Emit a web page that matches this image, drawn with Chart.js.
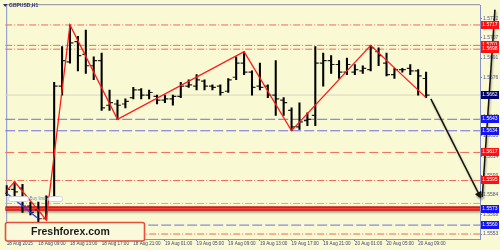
<!DOCTYPE html>
<html>
<head>
<meta charset="utf-8">
<script src="https://cdn.jsdelivr.net/npm/chart.js@4.4.0/dist/chart.umd.min.js"></script>
<style>
  html, body { margin: 0; padding: 0; background: #f9f9d3; }
  canvas { display: block; }
</style>
</head>
<body>
<canvas id="chart" width="500" height="250"></canvas>
<script>
// GBPUSD H1, one bar per hour from 18 Aug 2015 05:00
var opens  = [1.5585, 1.5588, 1.5589, 1.5575, 1.5572, 1.5565, 1.5582, 1.5669, 1.5688, 1.5704,
              1.5694, 1.5685, 1.5689, 1.5654, 1.5655, 1.5655, 1.5660, 1.5666, 1.5662, 1.5661,
              1.5658, 1.5659, 1.5661, 1.5669, 1.5669, 1.5673, 1.5669, 1.5669, 1.5665, 1.5676,
              1.5687, 1.5680, 1.5669, 1.5669, 1.5662, 1.5658, 1.5650, 1.5637, 1.5642, 1.5646,
              1.5687, 1.5689, 1.5686, 1.5680, 1.5680, 1.5681, 1.5682, 1.5696, 1.5687, 1.5678,
              1.5682, 1.5683, 1.5681, 1.5675];
var highs  = [1.5591, 1.5594, 1.5592, 1.5578, 1.5578, 1.5583, 1.5672, 1.5700, 1.5717, 1.5708,
              1.5713, 1.5692, 1.5695, 1.5666, 1.5658, 1.5659, 1.5668, 1.5667, 1.5666, 1.5662,
              1.5662, 1.5662, 1.5672, 1.5674, 1.5678, 1.5674, 1.5670, 1.5670, 1.5675, 1.5692,
              1.5696, 1.5681, 1.5687, 1.5670, 1.5689, 1.5660, 1.5652, 1.5656, 1.5648, 1.5700,
              1.5695, 1.5693, 1.5689, 1.5691, 1.5686, 1.5685, 1.5701, 1.5699, 1.5695, 1.5683,
              1.5683, 1.5686, 1.5682, 1.5680];
var lows   = [1.5583, 1.5581, 1.5570, 1.5568, 1.5562, 1.5564, 1.5581, 1.5662, 1.5687, 1.5681,
              1.5679, 1.5674, 1.5650, 1.5650, 1.5643, 1.5652, 1.5659, 1.5659, 1.5659, 1.5655,
              1.5656, 1.5654, 1.5660, 1.5668, 1.5666, 1.5666, 1.5666, 1.5662, 1.5664, 1.5674,
              1.5678, 1.5662, 1.5666, 1.5660, 1.5646, 1.5646, 1.5634, 1.5635, 1.5638, 1.5638,
              1.5669, 1.5679, 1.5675, 1.5678, 1.5678, 1.5679, 1.5681, 1.5685, 1.5677, 1.5675,
              1.5680, 1.5678, 1.5662, 1.5660];
var closes = [1.5588, 1.5586, 1.5575, 1.5570, 1.5565, 1.5582, 1.5669, 1.5689, 1.5703, 1.5693,
              1.5685, 1.5689, 1.5652, 1.5656, 1.5654, 1.5657, 1.5666, 1.5662, 1.5664, 1.5658,
              1.5659, 1.5661, 1.5669, 1.5670, 1.5674, 1.5669, 1.5668, 1.5664, 1.5674, 1.5687,
              1.5680, 1.5668, 1.5668, 1.5662, 1.5659, 1.5656, 1.5637, 1.5641, 1.5643, 1.5687,
              1.5689, 1.5686, 1.5680, 1.5686, 1.5682, 1.5683, 1.5699, 1.5693, 1.5678, 1.5682,
              1.5682, 1.5681, 1.5677, 1.5662];

var xTickBars   = [0, 4, 8, 12, 16, 20, 24, 28, 32, 36, 40, 44, 48, 52];
var xTickLabels = ['18 Aug 2015', '18 Aug 09:00', '18 Aug 13:00', '18 Aug 17:00', '18 Aug 21:00',
                   '19 Aug 01:00', '19 Aug 05:00', '19 Aug 09:00', '19 Aug 13:00', '19 Aug 17:00',
                   '19 Aug 21:00', '20 Aug 01:00', '20 Aug 05:00', '20 Aug 09:00'];
var yTickValues = [1.5722, 1.5707, 1.5691, 1.5676, 1.5661, 1.5645, 1.5630, 1.5614, 1.5599, 1.5584, 1.5568, 1.5553];

var zigzagBars   = [0, 1, 5, 8, 14, 30, 36, 46, 53];
var zigzagPrices = [1.5587, 1.5594, 1.5564, 1.5717, 1.5643, 1.5696, 1.5634, 1.5701, 1.5660];
var blueZigBars   = [0, 4];
var blueZigPrices = [1.5585, 1.5565];

var redDashDotLevels   = [1.5717, 1.5701, 1.5698, 1.5595, 1.5553];
var blueDashLevels     = [1.5643, 1.5634, 1.5560];
var redDashLevels      = [1.5617];
var greenDashDotLevels = [1.5577];
var stopLevel = 1.5573;
var bidPrice  = 1.5662;
var boxedLevels = [1.5717, 1.5701, 1.5698, 1.5662, 1.5643, 1.5634, 1.5617, 1.5595, 1.5573, 1.5560];

var arrowDownBars = [53.6, 59.7], arrowDownPrices = [1.5659, 1.5584];
var arrowUpBars   = [60.1, 61.7], arrowUpPrices   = [1.5582, 1.5729];

var X_MIN = -0.1875, X_MAX = 59.8125;
var FONT = "'Liberation Sans', Arial, sans-serif";

function pts(xs, ys) {
    return xs.map(function(x, k) { return {x: x, y: ys[k]}; });
}

function levelSet(v, color, dash, width, order) {
    return {
        type: 'line', data: [{x: X_MIN, y: v}, {x: X_MAX, y: v}],
        borderColor: color, borderWidth: width || 1, borderDash: dash || [],
        pointRadius: 0, order: order || 10
    };
}

function headRotation(c) {
    var d = c.dataset.data, i = c.dataIndex;
    if (i === 0) return 0;
    var sx = c.chart.scales.x, sy = c.chart.scales.y;
    var dx = sx.getPixelForValue(d[i].x) - sx.getPixelForValue(d[i - 1].x);
    var dy = sy.getPixelForValue(d[i].y) - sy.getPixelForValue(d[i - 1].y);
    return Math.atan2(dx, -dy) * 180 / Math.PI;
}

function arrowSet(xs, ys) {
    return {
        type: 'line', data: pts(xs, ys), clip: false, shadow: true,
        borderColor: '#111', borderWidth: 1.5,
        pointStyle: 'triangle', pointRadius: [0, 3.5], pointRotation: headRotation,
        pointBackgroundColor: '#111', pointBorderColor: '#111', pointBorderWidth: 1,
        order: -2
    };
}

var datasets = [];
redDashDotLevels.forEach(function(v) { datasets.push(levelSet(v, '#f06a58', [7, 2, 1, 2])); });
blueDashLevels.forEach(function(v) { datasets.push(levelSet(v, '#6e6ee0', [10, 3])); });
redDashLevels.forEach(function(v) { datasets.push(levelSet(v, '#f06a58', [9, 4])); });
greenDashDotLevels.forEach(function(v) { datasets.push(levelSet(v, '#8fd070', [7, 2, 1, 2])); });
datasets.push(levelSet(bidPrice, '#d6d6c0', [], 1, 11));
var stopOuter = levelSet(stopLevel, '#c01818', [], 4.5, 9);
stopOuter.shadow = true;
datasets.push(stopOuter);
datasets.push(levelSet(stopLevel, '#ff3a30', [], 1.8, 8));

// high-low sticks
datasets.push({
    type: 'bar', data: highs.map(function(h, i) { return {x: i, y: [lows[i], h]}; }),
    backgroundColor: '#000', barThickness: 1.4, borderWidth: 0, grouped: false, order: 2
});
// open / close ticks
datasets.push({
    type: 'line', showLine: false, data: opens.map(function(o, i) { return {x: i - 0.25, y: o}; }),
    pointStyle: 'line', pointRadius: 1.5, pointBorderWidth: 1.2, pointBorderColor: '#202020', order: 2
});
datasets.push({
    type: 'line', showLine: false, data: closes.map(function(c, i) { return {x: i + 0.25, y: c}; }),
    pointStyle: 'line', pointRadius: 1.5, pointBorderWidth: 1.2, pointBorderColor: '#202020', order: 2
});
datasets.push({
    type: 'line', data: pts(zigzagBars, zigzagPrices), borderColor: '#ff1a1a', borderWidth: 1.3,
    pointRadius: 0, order: 0
});
datasets.push({
    type: 'line', data: pts(blueZigBars, blueZigPrices), borderColor: '#2a3cff', borderWidth: 1.2,
    pointRadius: 0, order: 0
});
datasets.push(arrowSet(arrowDownBars, arrowDownPrices));
datasets.push(arrowSet(arrowUpBars, arrowUpPrices));

var shadowPlugin = {
    id: 'shadow',
    beforeDatasetDraw: function(chart, args) {
        if (!chart.data.datasets[args.index].shadow) return;
        var ctx = chart.ctx;
        ctx.save();
        ctx.shadowColor = 'rgba(70,70,50,0.45)';
        ctx.shadowBlur = 2;
        ctx.shadowOffsetX = 1;
        ctx.shadowOffsetY = 2;
    },
    afterDatasetDraw: function(chart, args) {
        if (chart.data.datasets[args.index].shadow) chart.ctx.restore();
    }
};

var decorPlugin = {
    id: 'decor',
    beforeDraw: function(chart) {
        var ctx = chart.ctx;
        ctx.save();
        ctx.fillStyle = '#f9f9d3';
        ctx.fillRect(0, 0, chart.width, chart.height);
        ctx.restore();
    },
    beforeDatasetsDraw: function(chart) {
        var ctx = chart.ctx, a = chart.chartArea;
        ctx.save();
        ctx.strokeStyle = '#8c8c9c';
        ctx.lineWidth = 1;
        ctx.beginPath();
        ctx.moveTo(a.left, a.top - 0.5);
        ctx.lineTo(a.right, a.top - 0.5);
        ctx.stroke();
        ctx.strokeStyle = '#8890c8';
        ctx.beginPath();
        ctx.moveTo(a.left + 1.5, a.top);
        ctx.lineTo(a.left + 1.5, a.bottom);
        ctx.stroke();
        ctx.restore();
    },
    afterDraw: function(chart) {
        var ctx = chart.ctx, a = chart.chartArea, sy = chart.scales.y;
        ctx.save();

        // price boxes on the right scale
        ctx.font = '5px ' + FONT;
        ctx.textAlign = 'center';
        ctx.textBaseline = 'middle';
        boxedLevels.forEach(function(v) {
            var y = sy.getPixelForValue(v);
            var col = '#ff1010';
            if (v === bidPrice) col = '#00006e';
            else if (blueDashLevels.indexOf(v) >= 0 || v === stopLevel) col = '#1414f0';
            ctx.fillStyle = col;
            ctx.fillRect(a.right + 1, Math.round(y) - 4, chart.width - a.right - 2, 8);
            ctx.fillStyle = '#fff';
            ctx.fillText(v.toFixed(4), (a.right + chart.width) / 2, Math.round(y));
        });

        // symbol caption
        ctx.fillStyle = '#303070';
        ctx.beginPath();
        ctx.moveTo(3, 4); ctx.lineTo(7.5, 4); ctx.lineTo(5.25, 7);
        ctx.closePath();
        ctx.fill();
        ctx.font = '600 5px ' + FONT;
        ctx.textAlign = 'left';
        ctx.fillText('GBPUSD,H1', 9, 5.5);

        // pending order label
        ctx.fillStyle = '#fff';
        ctx.strokeStyle = '#c8c8d0';
        ctx.lineWidth = 0.8;
        [[8, 20], [48, 14]].forEach(function(r) {
            ctx.beginPath();
            ctx.roundRect(r[0] + 0.5, 196.5, r[1], 5, 2);
            ctx.fill();
            ctx.stroke();
        });
        ctx.fillStyle = '#7a84a8';
        ctx.font = '4.5px ' + FONT;
        ctx.fillText('Buy limit', 29.5, 199);

        // site badge
        ctx.fillStyle = '#fbf9dc';
        ctx.strokeStyle = '#e2503c';
        ctx.lineWidth = 1.6;
        ctx.beginPath();
        ctx.roundRect(5.5, 222.5, 139, 18.5, 2);
        ctx.fill();
        ctx.stroke();
        ctx.fillStyle = '#1c1c1c';
        ctx.font = 'bold 10.5px ' + FONT;
        ctx.fillText('Freshforex.com', 31, 232.5);
        ctx.restore();
    }
};

new Chart(document.getElementById('chart'), {
    type: 'bar',
    data: {datasets: datasets},
    options: {
        responsive: false,
        animation: false,
        devicePixelRatio: 1,
        events: [],
        layout: {padding: {left: 0, right: 0, top: 1, bottom: 0}},
        plugins: {legend: {display: false}, tooltip: {enabled: false}},
        scales: {
            x: {
                type: 'linear', min: X_MIN, max: X_MAX, offset: false,
                afterFit: function(s) { s.height = 11; },
                afterBuildTicks: function(s) { s.ticks = xTickBars.map(function(b) { return {value: b}; }); },
                grid: {display: true, drawOnChartArea: false, drawTicks: true, tickLength: 2, color: '#7080b8', offset: false},
                border: {display: true, color: '#8890c8'},
                ticks: {
                    autoSkip: false, maxRotation: 0, minRotation: 0, align: 'start', padding: 0,
                    color: '#404070', font: {family: FONT, size: 4.6},
                    callback: function(v) { return xTickLabels[xTickBars.indexOf(v)]; }
                }
            },
            y: {
                type: 'linear', position: 'right', min: 1.55491, max: 1.57325,
                afterFit: function(s) { s.width = 20; },
                afterBuildTicks: function(s) { s.ticks = yTickValues.map(function(v) { return {value: v}; }); },
                grid: {display: true, drawOnChartArea: false, drawTicks: true, tickLength: 2, color: '#7080b8'},
                border: {display: true, color: '#8890c8'},
                ticks: {
                    padding: 1, crossAlign: 'near', color: '#505088', font: {family: FONT, size: 5},
                    callback: function(v) { return v.toFixed(4); }
                }
            }
        }
    },
    plugins: [shadowPlugin, decorPlugin]
});
</script>
</body>
</html>
